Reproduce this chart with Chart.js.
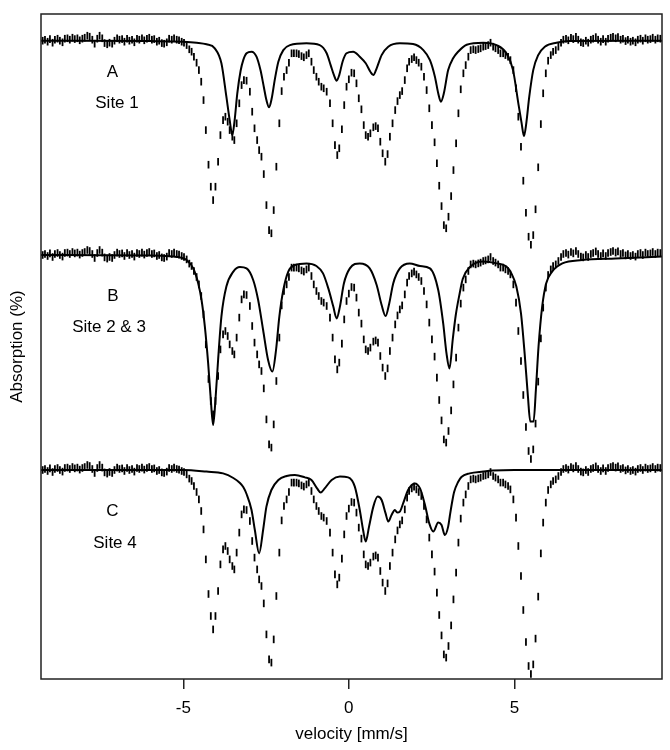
<!DOCTYPE html>
<html>
<head>
<meta charset="utf-8">
<script src="https://cdn.jsdelivr.net/npm/chart.js@4.4.1/dist/chart.umd.min.js"></script>
<style>
    body { margin: 0; background: #fff; }
    canvas { display: block; }
</style>
</head>
<body>
<canvas id="chart" width="670" height="750"></canvas>
<script>
// Measured spectrum (velocity in mm/s, relative absorption in %)
const velocity = [
    -9.25, -9.18, -9.10, -9.03, -8.95, -8.88, -8.80, -8.73, -8.65, -8.58,
    -8.50, -8.43, -8.35, -8.28, -8.20, -8.13, -8.05, -7.98, -7.90, -7.83,
    -7.75, -7.68, -7.60, -7.53, -7.45, -7.38, -7.30, -7.23, -7.15, -7.08,
    -7.00, -6.93, -6.85, -6.78, -6.70, -6.63, -6.55, -6.48, -6.40, -6.33,
    -6.25, -6.18, -6.10, -6.03, -5.95, -5.88, -5.80, -5.73, -5.65, -5.58,
    -5.50, -5.43, -5.35, -5.28, -5.20, -5.13, -5.05, -4.98, -4.90, -4.82,
    -4.75, -4.68, -4.60, -4.53, -4.46, -4.39, -4.32, -4.24, -4.17, -4.10,
    -4.03, -3.95, -3.88, -3.80, -3.73, -3.66, -3.60, -3.52, -3.46, -3.39,
    -3.31, -3.24, -3.17, -3.09, -2.99, -2.92, -2.85, -2.77, -2.71, -2.64,
    -2.57, -2.49, -2.41, -2.34, -2.27, -2.19, -2.10, -2.03, -1.96, -1.88,
    -1.81, -1.73, -1.66, -1.58, -1.51, -1.43, -1.36, -1.28, -1.21, -1.13,
    -1.06, -0.98, -0.91, -0.83, -0.76, -0.67, -0.57, -0.49, -0.42, -0.35,
    -0.29, -0.21, -0.14, -0.07, 0.00, 0.08, 0.16, 0.23, 0.30, 0.38,
    0.45, 0.51, 0.58, 0.65, 0.74, 0.81, 0.88, 0.95, 1.02, 1.10,
    1.17, 1.24, 1.32, 1.40, 1.47, 1.54, 1.61, 1.69, 1.76, 1.82,
    1.90, 1.97, 2.04, 2.11, 2.19, 2.27, 2.35, 2.43, 2.51, 2.59,
    2.66, 2.73, 2.80, 2.87, 2.94, 3.01, 3.09, 3.16, 3.24, 3.31,
    3.38, 3.46, 3.53, 3.61, 3.68, 3.76, 3.83, 3.91, 3.98, 4.06,
    4.13, 4.21, 4.28, 4.36, 4.43, 4.51, 4.58, 4.66, 4.73, 4.81,
    4.88, 4.97, 5.05, 5.12, 5.20, 5.27, 5.35, 5.43, 5.50, 5.57,
    5.64, 5.72, 5.80, 5.87, 5.95, 6.02, 6.10, 6.17, 6.25, 6.33,
    6.41, 6.48, 6.56, 6.63, 6.71, 6.78, 6.86, 6.93, 7.01, 7.08,
    7.16, 7.23, 7.31, 7.38, 7.46, 7.53, 7.61, 7.68, 7.76, 7.83,
    7.91, 7.98, 8.06, 8.13, 8.21, 8.28, 8.36, 8.43, 8.51, 8.58,
    8.66, 8.73, 8.81, 8.88, 8.96, 9.03, 9.11, 9.18, 9.26, 9.33,
    9.41
];
const absorption = [
    0.0, 0.05, -0.05, 0.08, -0.1, 0.05, 0.1, 0.0, -0.08, 0.1,
    0.12, 0.05, 0.15, 0.08, 0.12, 0.02, 0.1, 0.15, 0.25, 0.2,
    0.05, -0.15, 0.1, 0.25, 0.12, -0.12, -0.18, -0.1, -0.15, 0.0,
    0.12, 0.05, 0.08, -0.05, 0.1, 0.0, 0.05, -0.08, 0.1, 0.05,
    0.12, 0.02, 0.1, 0.15, 0.05, 0.08, -0.05, 0.0, -0.12, -0.15,
    -0.08, 0.1, 0.05, 0.12, 0.05, 0.02, -0.05, -0.1, -0.22, -0.43,
    -0.55, -0.8, -1.1, -1.47, -2.05, -2.97, -4.47, -6.2, -7.3, -7.97,
    -7.3, -6.05, -4.72, -3.97, -3.8, -4.05, -4.47, -4.8, -4.97, -4.13,
    -3.13, -2.22, -1.97, -2.0, -2.55, -3.55, -4.38, -4.97, -5.47, -5.8,
    -6.67, -8.22, -9.47, -9.63, -8.47, -6.3, -4.13, -2.52, -1.8, -1.47,
    -1.1, -0.63, -0.63, -0.63, -0.67, -0.77, -0.83, -0.72, -0.63, -1.05,
    -1.47, -1.8, -2.05, -2.3, -2.38, -2.55, -3.13, -4.13, -5.22, -5.72,
    -5.38, -4.43, -3.22, -2.3, -1.93, -1.6, -1.63, -2.13, -2.88, -3.43,
    -4.22, -4.72, -4.8, -4.63, -4.33, -4.27, -4.38, -5.05, -5.63, -6.05,
    -5.67, -4.8, -4.13, -3.47, -3.02, -2.72, -2.52, -1.97, -1.38, -1.05,
    -0.92, -0.83, -0.97, -1.1, -1.3, -1.8, -2.47, -3.38, -4.22, -5.08,
    -6.13, -7.25, -8.27, -9.22, -9.38, -8.8, -7.77, -6.47, -5.13, -3.63,
    -2.43, -1.63, -1.22, -0.8, -0.47, -0.43, -0.47, -0.42, -0.38, -0.3,
    -0.27, -0.22, -0.1, -0.3, -0.38, -0.47, -0.63, -0.63, -0.72, -0.8,
    -0.97, -1.47, -2.38, -3.8, -5.3, -7.0, -8.6, -9.8, -10.2, -9.72,
    -8.43, -6.33, -4.17, -2.63, -1.63, -1.0, -0.72, -0.55, -0.47, -0.3,
    -0.1, 0.05, 0.1, 0.02, 0.15, 0.08, 0.2, 0.05, -0.08, -0.12,
    0.0, -0.1, 0.05, 0.1, 0.18, 0.05, -0.05, 0.08, -0.05, 0.1,
    0.15, 0.2, 0.12, 0.18, 0.05, 0.1, -0.02, 0.05, -0.05, 0.0,
    -0.08, 0.05, 0.1, 0.0, 0.12, 0.05, 0.08, 0.15, 0.05, 0.12,
    0.1
];

// Fitted sub-spectra
const site1Vel = [-9.3, -6.0, -5.0, -4.6, -4.3, -4.05, -3.85, -3.7, -3.6, -3.52, -3.45, -3.37, -3.27, -3.19, -3.09, -2.94, -2.79, -2.67, -2.57, -2.49, -2.41, -2.33, -2.24, -2.13, -1.98, -1.78, -1.28, -0.88, -0.67, -0.55, -0.45, -0.37, -0.29, -0.19, -0.07, 0.13, 0.33, 0.51, 0.65, 0.74, 0.84, 0.99, 1.19, 1.54, 1.94, 2.25, 2.45, 2.6, 2.7, 2.78, 2.87, 3.0, 3.15, 3.3, 3.56, 4.06, 4.46, 4.76, 4.96, 5.12, 5.22, 5.29, 5.36, 5.45, 5.57, 5.72, 5.92, 6.27, 6.68, 9.46];
const site1Abs = [0, -0.02, -0.05, -0.1, -0.18, -0.38, -1.13, -2.8, -3.97, -4.72, -3.97, -2.63, -1.5, -0.97, -0.63, -0.55, -0.8, -1.47, -2.3, -2.97, -3.33, -2.88, -1.97, -1.05, -0.47, -0.22, -0.13, -0.22, -0.63, -1.22, -1.72, -2.0, -1.72, -1.05, -0.63, -0.55, -0.8, -1.13, -1.55, -1.72, -1.38, -0.72, -0.3, -0.13, -0.17, -0.47, -0.97, -1.8, -2.63, -3.05, -2.63, -1.47, -0.88, -0.55, -0.2, -0.1, -0.22, -0.63, -1.47, -3.13, -4.13, -4.77, -4.13, -2.8, -1.47, -0.72, -0.3, -0.1, -0.02, 0];

const site23Vel = [-9.3, -6.0, -5.3, -5.1, -4.9, -4.7, -4.55, -4.45, -4.35, -4.25, -4.17, -4.1, -4.03, -3.95, -3.85, -3.7, -3.49, -3.29, -3.09, -2.89, -2.74, -2.59, -2.44, -2.31, -2.2, -2.1, -1.98, -1.83, -1.63, -1.28, -0.98, -0.78, -0.62, -0.47, -0.37, -0.27, -0.15, 0.03, 0.33, 0.63, 0.84, 0.99, 1.11, 1.22, 1.34, 1.54, 1.84, 2.15, 2.45, 2.7, 2.85, 2.95, 3.04, 3.14, 3.23, 3.35, 3.44, 3.66, 4.05, 4.47, 4.76, 4.91, 5.06, 5.2, 5.31, 5.41, 5.48, 5.58, 5.65, 5.73, 5.84, 5.96, 6.14, 6.45, 7.05, 8.06, 9.46];
const site23Abs = [0, -0.02, -0.08, -0.12, -0.25, -0.67, -1.42, -2.25, -3.58, -5.42, -7.25, -8.5, -7.25, -5.25, -3.08, -1.58, -0.83, -0.6, -0.67, -1.25, -2.25, -3.75, -5.25, -5.83, -4.75, -3.08, -1.75, -0.83, -0.5, -0.42, -0.55, -0.92, -1.67, -2.58, -3.17, -2.58, -1.42, -0.67, -0.42, -0.67, -1.5, -2.5, -3.05, -2.42, -1.42, -0.67, -0.42, -0.55, -0.67, -1.75, -3.42, -4.92, -5.67, -4.2, -3.0, -1.9, -1.2, -0.6, -0.33, -0.42, -0.58, -0.92, -1.58, -2.92, -4.92, -7.08, -8.33, -8.33, -6.75, -4.58, -2.58, -1.42, -0.83, -0.42, -0.25, -0.17, -0.08];

const site4Vel = [-9.3, -5.0, -4.3, -3.8, -3.49, -3.29, -3.19, -3.09, -2.94, -2.84, -2.71, -2.59, -2.49, -2.34, -2.13, -1.88, -1.63, -1.33, -1.13, -0.96, -0.85, -0.73, -0.52, -0.27, -0.02, 0.18, 0.33, 0.43, 0.51, 0.61, 0.74, 0.87, 0.99, 1.11, 1.19, 1.29, 1.39, 1.46, 1.54, 1.64, 1.79, 1.99, 2.15, 2.3, 2.43, 2.55, 2.7, 2.8, 2.9, 3.0, 3.05, 3.12, 3.18, 3.3, 3.4, 3.65, 4.06, 4.36, 5.0, 9.46];
const site4Abs = [0, 0, -0.08, -0.17, -0.4, -0.65, -0.85, -1.2, -2.0, -3.0, -4.17, -3.0, -1.83, -1.0, -0.5, -0.3, -0.25, -0.37, -0.5, -0.92, -1.13, -0.92, -0.5, -0.33, -0.37, -0.83, -2.0, -3.0, -3.58, -2.83, -1.83, -1.33, -1.5, -2.17, -2.58, -2.25, -2.0, -2.13, -2.08, -1.67, -1.0, -0.67, -0.92, -1.75, -2.67, -3.08, -2.63, -2.75, -3.25, -2.83, -2.3, -1.6, -1.1, -0.6, -0.35, -0.17, -0.08, -0.03, 0, 0];

// Panels: vertical offset of each spectrum (%), labels
const panelOffsets = [0, -10.715, -21.465];
const panelLetters = ["A", "B", "C"];
const siteNames = ["Site 1", "Site 2 & 3", "Site 4"];
const xTicks = [-5, 0, 5];

const fitVel = [site1Vel, site23Vel, site4Vel];
const fitAbs = [site1Abs, site23Abs, site4Abs];

Chart.defaults.font.family = "'Liberation Sans', Arial, sans-serif";
Chart.defaults.color = "#000";

// Build datasets: data points as vertical bars, fit as solid line
const datasets = [];
panelOffsets.forEach((off, i) => {
    datasets.push({
        data: velocity.map((v, k) => ({ x: v, y: absorption[k] + off })),
        showLine: false,
        pointStyle: "line",
        pointRotation: 90,
        pointRadius: 3.8,
        pointBorderWidth: 1.8,
        pointBorderColor: "#000",
        pointHoverRadius: 3.8
    });
    datasets.push({
        data: fitVel[i].map((v, k) => ({ x: v, y: fitAbs[i][k] + off })),
        borderColor: "#000",
        borderWidth: 2,
        pointRadius: 0,
        fill: false,
        cubicInterpolationMode: "monotone"
    });
});

// Frame and panel labels
const framePlugin = {
    id: "framePlugin",
    afterDraw(chart) {
        const ctx = chart.ctx;
        const a = chart.chartArea;
        const letterPos = [[112.5, 72], [113, 296], [112.5, 511]];
        const sitePos = [[117, 103], [109, 327], [115, 543]];
        ctx.save();
        ctx.strokeStyle = "#222";
        ctx.lineWidth = 1.5;
        ctx.strokeRect(a.left, a.top, a.right - a.left, a.bottom - a.top);
        ctx.fillStyle = "#000";
        ctx.font = "17px 'Liberation Sans', Arial, sans-serif";
        ctx.textAlign = "center";
        ctx.textBaseline = "middle";
        panelLetters.forEach((t, i) => {
            ctx.fillText(t, letterPos[i][0], letterPos[i][1]);
            ctx.fillText(siteNames[i], sitePos[i][0], sitePos[i][1]);
        });
        ctx.restore();
    }
};

new Chart(document.getElementById("chart"), {
    type: "line",
    data: { datasets: datasets },
    plugins: [framePlugin],
    options: {
        responsive: false,
        animation: false,
        devicePixelRatio: 1,
        layout: { padding: { top: 14, right: 8, left: 0, bottom: 0 } },
        plugins: { legend: { display: false }, tooltip: { enabled: false } },
        scales: {
            x: {
                type: "linear",
                min: -9.3,
                max: 9.46,
                afterBuildTicks: s => { s.ticks = xTicks.map(v => ({ value: v })); },
                afterFit: s => { s.height = 71; },
                ticks: {
                    padding: 9,
                    font: { size: 17 },
                    color: "#000",
                    callback: v => String(v)
                },
                grid: {
                    drawOnChartArea: false,
                    drawTicks: true,
                    tickLength: 10,
                    color: "#222",
                    lineWidth: 1.5
                },
                border: { display: false },
                title: {
                    display: true,
                    text: "velocity [mm/s]",
                    font: { size: 17 },
                    color: "#000",
                    padding: { top: 0, bottom: 5 }
                }
            },
            y: {
                type: "linear",
                min: -31.915,
                max: 1.335,
                afterFit: s => { s.width = 41; },
                ticks: { display: false },
                grid: { display: false },
                border: { display: false },
                title: {
                    display: true,
                    text: "Absorption (%)",
                    font: { size: 17 },
                    color: "#000",
                    padding: { top: 7, bottom: 0 }
                }
            }
        }
    }
});
</script>
</body>
</html>
